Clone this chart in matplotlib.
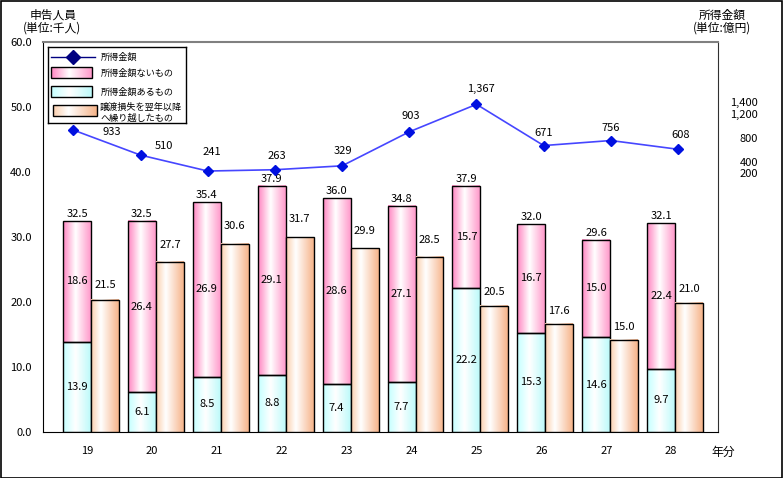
import matplotlib
matplotlib.use("Agg")
import matplotlib.pyplot as plt
import numpy as np
from matplotlib.colors import LinearSegmentedColormap
from matplotlib.patches import Rectangle

plt.rcParams['font.family'] = ['Noto Sans CJK JP', 'DejaVu Sans']

years = ['19', '20', '21', '22', '23', '24', '25', '26', '27', '28']
no_income = [18.6, 26.4, 26.9, 29.1, 28.6, 27.1, 15.7, 16.7, 15.0, 22.4]   # 所得金額ないもの
with_income = [13.9, 6.1, 8.5, 8.8, 7.4, 7.7, 22.2, 15.3, 14.6, 9.7]      # 所得金額あるもの
totals = [32.5, 32.5, 35.4, 37.9, 36.0, 34.8, 37.9, 32.0, 29.6, 32.1]
carried = [21.5, 27.7, 30.6, 31.7, 29.9, 28.5, 20.5, 17.6, 15.0, 21.0]    # 譲渡損失を翌年以降へ繰り越したもの
income = [933, 510, 241, 263, 329, 903, 1367, 671, 756, 608]              # 所得金額 (億円)
right_ticks = [200, 400, 800, 1200, 1400]

# label offsets (pixels) for the line values
line_label_offsets = [(38, -2), (23, 9), (4, 19), (2, 14), (1, 15),
                      (1, 16), (4, 15), (0, 13), (0, 13), (3, 14)]

W, H = 783, 478
fig = plt.figure(figsize=(W / 100, H / 100), dpi=100)

def px_rect(x0, y0, x1, y1):
    return [x0 / W, (H - y1) / H, (x1 - x0) / W, (y1 - y0) / H]

pink = LinearSegmentedColormap.from_list('p', [(0, '#ff86c2'), (0.45, '#ffffff'), (1, '#ff9acb')])
cyan = LinearSegmentedColormap.from_list('c', [(0, '#c4ffff'), (0.45, '#ffffff'), (1, '#bdfafa')])
peach = LinearSegmentedColormap.from_list('o', [(0, '#fbcfae'), (0.35, '#ffffff'), (1, '#f6b48a')])
grad = np.linspace(0, 1, 64).reshape(1, -1)

def grad_bar(ax, x0, y0, w, h, cmap, z=2):
    ax.imshow(grad, cmap=cmap, extent=[x0, x0 + w, y0, y0 + h], aspect='auto',
              interpolation='bilinear', zorder=z)
    ax.add_patch(Rectangle((x0, y0), w, h, fill=False, edgecolor='black', lw=1, zorder=z + 0.1))

fs = 8
rect = px_rect(43, 42, 718, 432)
ax = fig.add_axes(rect)
x = np.arange(len(years))
bw = 0.431
xlim = (-0.740, 9.661)

for i in x:
    grad_bar(ax, i - bw, 0, bw, with_income[i], cyan)
    grad_bar(ax, i - bw, with_income[i], bw, no_income[i], pink)
    ax.text(i - bw / 2, with_income[i] / 2, f'{with_income[i]:.1f}', ha='center', va='center', fontsize=fs)
    ax.text(i - bw / 2, with_income[i] + no_income[i] / 2, f'{no_income[i]:.1f}', ha='center', va='center', fontsize=fs)
    ax.annotate(f'{totals[i]:.1f}', (i - bw / 2, totals[i]), xytext=(0, 4), textcoords='offset pixels',
                ha='center', va='baseline', fontsize=fs)
    ax.annotate(f'{carried[i]:.1f}', (i + bw / 2, carried[i]), xytext=(0, 4), textcoords='offset pixels',
                ha='center', va='baseline', fontsize=fs)

ax.set_xlim(*xlim)
ax.set_ylim(0, 60)
ax.set_yticks(np.arange(0, 61, 10))
ax.set_yticklabels([f'{v:.1f}' for v in range(0, 61, 10)], fontsize=fs)
ax.set_xticks(x - 0.06)
ax.set_xticklabels(years, fontsize=fs)
ax.tick_params(length=0)
ax.tick_params(axis='y', pad=8)
ax.tick_params(axis='x', pad=10)
ax.spines['top'].set_color('#808080')
ax.spines['top'].set_linewidth(1.5)
ax.spines['right'].set_color('#303030')
for s in ax.spines.values():
    s.set_zorder(5)

# orange bars use their own (secondary) scale, as in the original chart
ax_o = ax.twinx()
for i in x:
    grad_bar(ax_o, i, 0, bw, carried[i], peach)
ax_o.set_xlim(*xlim)
ax_o.set_ylim(0, 63.4)
ax_o.axis('off')

# line on its own category axis
axl = fig.add_axes(rect, frameon=False)
axl.patch.set_visible(False)
axl.plot(x, income, color='#4646ff', lw=1.2, marker='D', markersize=5.5,
         markerfacecolor='#0010e0', markeredgecolor='#0010e0', zorder=4)
for i in x:
    axl.annotate(f'{income[i]:,}', (i, income[i]), xytext=line_label_offsets[i],
                 textcoords='offset pixels', ha='center', va='center', fontsize=fs)
axl.set_xlim(-0.451, 9.594)
axl.set_ylim(-4164, 2419)
axl.xaxis.set_visible(False)
axl.yaxis.tick_right()
axl.set_yticks(right_ticks)
axl.set_yticklabels([f'{v:,}' for v in right_ticks], fontsize=fs)
axl.tick_params(axis='y', length=0, pad=29)
for lbl in axl.get_yticklabels():
    lbl.set_horizontalalignment('right')

# legend
lg = fig.add_axes(px_rect(48, 47, 186, 123))
lg.set_xticks([])
lg.set_yticks([])
for s in lg.spines.values():
    s.set_linewidth(1)
lg.plot([3, 47], [10, 10], color='#000080', lw=1)
lg.plot([25], [10], marker='D', markersize=7, color='#000080')
lfs = 6.6
lg.text(53, 10, '所得金額', va='center', fontsize=lfs)
for (y0, cmap, xs, label) in [(20, pink, (3, 44), '所得金額ないもの'),
                              (39, cyan, (3, 44), '所得金額あるもの'),
                              (58, peach, (5, 49), None)]:
    lg.imshow(grad, cmap=cmap, extent=[xs[0], xs[1], y0 + 11, y0], aspect='auto',
              interpolation='bilinear')
    lg.add_patch(Rectangle((xs[0], y0), xs[1] - xs[0], 11, fill=False, edgecolor='black', lw=1))
    if label:
        lg.text(53, y0 + 6, label, va='center', fontsize=lfs)
lg.text(52, 60, '譲渡損失を翌年以降', va='center', fontsize=lfs)
lg.text(52, 71, 'へ繰り越したもの', va='center', fontsize=lfs)
lg.set_xlim(0, 138)
lg.set_ylim(76, 0)

# titles
fig.text(53 / W, 1 - 15 / H, '申告人員', ha='center', va='center', fontsize=8.5)
fig.text(52 / W, 1 - 28 / H, '(単位:千人)', ha='center', va='center', fontsize=8.5)
fig.text(722 / W, 1 - 15 / H, '所得金額', ha='center', va='center', fontsize=8.5)
fig.text(722 / W, 1 - 28 / H, '(単位:億円)', ha='center', va='center', fontsize=8.5)
fig.text(723 / W, 1 - 452 / H, '年分', ha='center', va='center', fontsize=8.5)

fig.add_artist(Rectangle((0.5 / W, 0.5 / H), 1 - 1.5 / W, 1 - 1.5 / H, transform=fig.transFigure,
                         fill=False, edgecolor='black', lw=1.2))

fig.savefig('out.png', dpi=100)
